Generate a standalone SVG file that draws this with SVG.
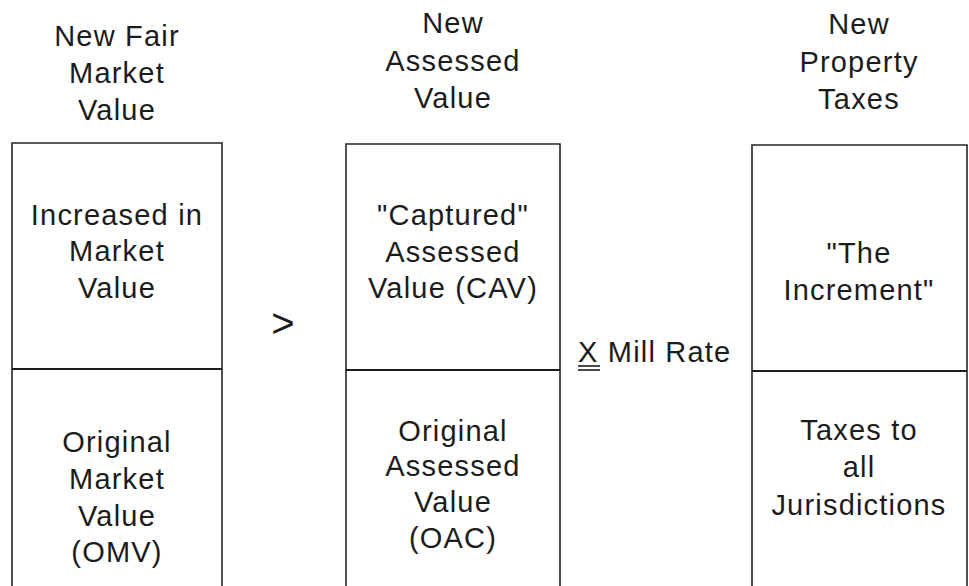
<svg xmlns="http://www.w3.org/2000/svg" width="969" height="586" viewBox="0 0 969 586">
<style>
  .t { font-family: "Liberation Sans", Arial, sans-serif; font-size: 29px; letter-spacing: 1.2px; fill: #1c1c1c; text-anchor: middle; }
  .box { fill: none; stroke: #262626; stroke-width: 1.6; }
  .div { stroke: #1c1c1c; stroke-width: 2; }
</style>
<rect width="969" height="586" fill="#ffffff"/>

<g id="header-fair-market-value">
  <text class="t" x="117" y="46">New Fair</text>
  <text class="t" x="117" y="83">Market</text>
  <text class="t" x="117" y="120">Value</text>
</g>
<g id="header-assessed-value">
  <text class="t" x="453" y="33">New</text>
  <text class="t" x="453" y="71">Assessed</text>
  <text class="t" x="453" y="108">Value</text>
</g>
<g id="header-property-taxes">
  <text class="t" x="859" y="34">New</text>
  <text class="t" x="859" y="72">Property</text>
  <text class="t" x="859" y="109">Taxes</text>
</g>

<g id="col-market">
  <path class="box" d="M12,586 V143 H222 V586"/>
  <line class="div" x1="12" y1="369" x2="222" y2="369"/>
</g>
<g id="node-increased-market-value">
  <text class="t" x="117" y="225">Increased in</text>
  <text class="t" x="117" y="261">Market</text>
  <text class="t" x="117" y="298">Value</text>
</g>
<g id="node-original-market-value">
  <text class="t" x="117" y="452">Original</text>
  <text class="t" x="117" y="489">Market</text>
  <text class="t" x="117" y="526">Value</text>
  <text class="t" x="117" y="562">(OMV)</text>
</g>

<g id="col-assessed">
  <path class="box" d="M346,586 V144 H560 V586"/>
  <line class="div" x1="346" y1="370" x2="560" y2="370"/>
</g>
<g id="node-captured-assessed-value">
  <text class="t" x="453" y="225">"Captured"</text>
  <text class="t" x="453" y="262">Assessed</text>
  <text class="t" x="453" y="298">Value (CAV)</text>
</g>
<g id="node-original-assessed-value">
  <text class="t" x="453" y="441">Original</text>
  <text class="t" x="453" y="476">Assessed</text>
  <text class="t" x="453" y="512">Value</text>
  <text class="t" x="453" y="548">(OAC)</text>
</g>

<g id="col-taxes">
  <path class="box" d="M752,586 V145 H967 V586"/>
  <line class="div" x1="752" y1="371" x2="967" y2="371"/>
</g>
<g id="node-the-increment">
  <text class="t" x="859" y="263">"The</text>
  <text class="t" x="859" y="300">Increment"</text>
</g>
<g id="node-taxes-all-jurisdictions">
  <text class="t" x="859" y="440">Taxes to</text>
  <text class="t" x="859" y="477">all</text>
  <text class="t" x="859" y="515">Jurisdictions</text>
</g>

<g id="connectors">
  <g id="op-greater">
    <text class="t" x="283" y="337" style="font-size:40px;letter-spacing:0">&gt;</text>
  </g>
  <g id="op-mill-rate">
    <text class="t" x="578" y="362" style="text-anchor:start">X Mill Rate</text>
    <line x1="578" y1="366" x2="600" y2="366" stroke="#1c1c1c" stroke-width="1.6"/>
    <line x1="578" y1="370" x2="600" y2="370" stroke="#1c1c1c" stroke-width="1.6"/>
  </g>
</g>
</svg>
